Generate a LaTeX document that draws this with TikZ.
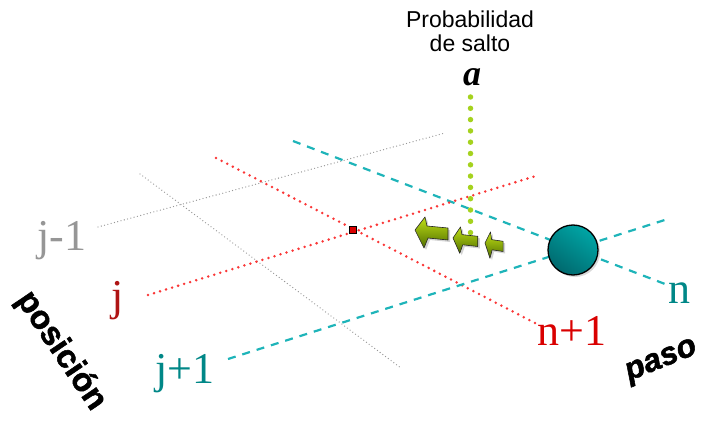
\documentclass[tikz,border=0pt]{standalone}
\usepackage{fontspec}
\setmainfont{Liberation Serif}
\setsansfont{Liberation Sans}
\newfontfamily\ejefont[FakeBold=1.6]{Liberation Sans Bold}
\newfontfamily\ejefontit[FakeBold=1.6]{Liberation Sans Bold Italic}
\usetikzlibrary{positioning,shadows}

\definecolor{gris}{RGB}{150,150,150}
\definecolor{rojo}{RGB}{250,55,55}
\definecolor{rojoosc}{RGB}{175,20,20}
\definecolor{turq}{RGB}{30,180,185}
\definecolor{turqosc}{RGB}{0,135,135}
\definecolor{lima}{RGB}{165,210,30}
\definecolor{oliva}{RGB}{80,110,0}
\definecolor{bolaclara}{RGB}{0,165,165}
\definecolor{bolaosc}{RGB}{0,105,110}

\tikzset{
  lgris/.style  ={draw=gris, line width=1.3pt, dash pattern=on 0pt off 3.4pt, line cap=round},
  lrojo/.style  ={draw=rojo, line width=2.8pt, dash pattern=on 0pt off 6.3pt, line cap=round},
  lturq/.style  ={draw=turq, line width=2.2pt, dash pattern=on 8pt off 7pt},
  lverde/.style ={draw=lima, line width=5.5pt, dash pattern=on 0pt off 11.3pt, line cap=round},
  etiq/.style   ={font=\fontsize{44}{44}\selectfont, inner sep=0pt, anchor=base},
  titulo/.style ={font=\sffamily\fontsize{23}{23}\selectfont, inner sep=0pt, anchor=base},
  eje/.style    ={font=\ejefont\fontsize{33}{33}\selectfont, inner sep=0pt},
  flecha/.style ={draw=black!85, line width=0.6pt, line join=round, top color=lima!70!yellow, bottom color=oliva,
                  drop shadow={shadow xshift=2pt, shadow yshift=-2pt, opacity=0.35}},
  bola/.style   ={circle, draw=black, line width=1.3pt, minimum size=50pt, inner sep=0pt,
                  top color=bolaclara, bottom color=bolaosc, shading angle=-35,
                  drop shadow={shadow xshift=2pt, shadow yshift=-2pt, opacity=0.3}},
  cruce/.style  ={draw=black, line width=0.8pt, fill=red!85!black, minimum size=7pt, inner sep=0pt},
}
% arrow: tip x, tip y, xscale, yscale
\newcommand{\flechaverde}[4]{%
  \path[flecha, shift={(#1,#2)}, xscale=#3, yscale=#4]
    (0,0) -- (10,13) -- (12,4) -- (33,2) -- (33,-10) -- (13,-8) -- (9,-18) -- cycle;}

\begin{document}
\begin{tikzpicture}[x=1pt, y=1pt]
  \useasboundingbox (0,0) rectangle (701,421);

  % grid ends
  \coordinate (jm1a) at (98,194);  \coordinate (jm1b) at (445,288);
  \coordinate (n2a)  at (140,247); \coordinate (n2b)  at (401,53);
  \coordinate (n1a)  at (216,263); \coordinate (n1b)  at (535,98);
  \coordinate (ja)   at (148,126); \coordinate (jb)   at (539,246);
  \coordinate (na)   at (293,280); \coordinate (nb)   at (665,137);
  \coordinate (jp1a) at (228,62);  \coordinate (jp1b) at (671,203);
  \coordinate (vini) at (470.5,324); \coordinate (vfin) at (470.5,188);

  \draw[lgris] (jm1a) -- (jm1b);
  \draw[lgris] (n2a) -- (n2b);
  \draw[lturq] (na) -- (nb);
  \draw[lrojo] (n1a) -- (n1b);
  \draw[lrojo] (ja) -- (jb);
  \draw[lturq] (jp1a) -- (jp1b);
  \draw[lverde] (vini) -- (vfin);

  \node[cruce] (cruce) at (353,191) {};
  \node[bola] (bola) at (573,171) {};

  \flechaverde{415}{191}{1}{1}
  \flechaverde{453}{183}{0.75}{0.85}
  \flechaverde{485}{178}{0.55}{0.85}

  \node[titulo] (prob) at (470,393) {Probabilidad};
  \node[titulo] (salto) at (470,369) {de salto};
  \node[font=\bfseries\itshape\fontsize{36}{36}\selectfont, inner sep=0pt, anchor=base] (a) at (472,335) {a};

  \node[etiq, text=gris] (jm1) at (62,171) {j-1};
  \node[etiq, text=rojoosc] (j) at (118,111) {j};
  \node[etiq, text=turqosc] (jp1) at (185,38) {j+1};
  \node[etiq, text=turqosc] (n) at (679,118) {n};
  \node[etiq, text=red!85!black] (n1) at (572,76) {n+1};

  \node[eje, rotate=-56] (pos) at (61,70) {posición};
  \node[eje, font=\ejefontit\fontsize{32}{32}\selectfont, rotate=22] (paso) at (662,59) {paso};
\end{tikzpicture}
\end{document}
